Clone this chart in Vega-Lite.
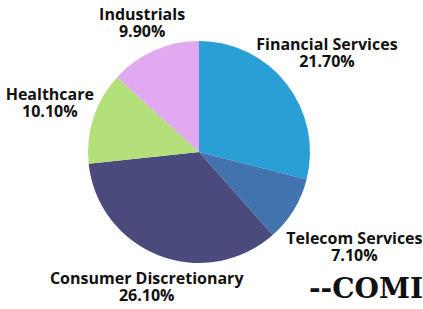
{
  "$schema": "https://vega.github.io/schema/vega-lite/v6.json",
  "width": 398,
  "height": 304,
  "autosize": "none",
  "padding": {"left": 0, "top": 0, "right": 25, "bottom": 5},
  "background": "white",
  "config": {"view": {"stroke": null}},
  "title": {
    "text": "--COMI",
    "orient": "bottom",
    "anchor": "end",
    "frame": "group",
    "font": "DejaVu Serif",
    "fontSize": 28,
    "fontWeight": "bold",
    "color": "#111111",
    "offset": -46,
    "dx": 25
  },
  "data": {
    "values": [
      {"sector": "Financial Services", "value": 21.7},
      {"sector": "Telecom Services", "value": 7.1},
      {"sector": "Consumer Discretionary", "value": 26.1},
      {"sector": "Healthcare", "value": 10.1},
      {"sector": "Industrials", "value": 9.9}
    ]
  },
  "transform": [
    {"window": [{"op": "row_number", "as": "rank"}]},
    {"calculate": "datum.sector + '\\n' + format(datum.value, '.2f') + '%'", "as": "label"}
  ],
  "encoding": {
    "theta": {"field": "value", "type": "quantitative", "stack": true},
    "order": {"field": "rank", "type": "quantitative"}
  },
  "layer": [
    {
      "mark": {"type": "arc", "radius": 111},
      "encoding": {
        "color": {
          "field": "sector",
          "type": "nominal",
          "legend": null,
          "scale": {
            "domain": ["Financial Services", "Telecom Services", "Consumer Discretionary", "Healthcare", "Industrials"],
            "range": ["#2a9fd5", "#4373ae", "#4b4a7d", "#b3e07b", "#e1a9ef"]
          }
        }
      }
    },
    {
      "mark": {"type": "text", "radius": 162, "dy": -8, "font": "Open Sans", "fontWeight": "bold", "fontSize": 16, "lineBreak": "\n", "lineHeight": 17, "color": "#111111", "align": "center", "baseline": "middle"},
      "encoding": {"text": {"condition": {"test": "datum.sector === 'Financial Services'", "field": "label"}, "value": ""}}
    },
    {
      "mark": {"type": "text", "radius": 182, "dy": -8, "font": "Open Sans", "fontWeight": "bold", "fontSize": 16, "lineBreak": "\n", "lineHeight": 17, "color": "#111111", "align": "center", "baseline": "middle"},
      "encoding": {"text": {"condition": {"test": "datum.sector === 'Telecom Services'", "field": "label"}, "value": ""}}
    },
    {
      "mark": {"type": "text", "radius": 145, "dy": -8, "font": "Open Sans", "fontWeight": "bold", "fontSize": 16, "lineBreak": "\n", "lineHeight": 17, "color": "#111111", "align": "center", "baseline": "middle"},
      "encoding": {"text": {"condition": {"test": "datum.sector === 'Consumer Discretionary'", "field": "label"}, "value": ""}}
    },
    {
      "mark": {"type": "text", "radius": 157, "dy": -8, "font": "Open Sans", "fontWeight": "bold", "fontSize": 16, "lineBreak": "\n", "lineHeight": 17, "color": "#111111", "align": "center", "baseline": "middle"},
      "encoding": {"text": {"condition": {"test": "datum.sector === 'Healthcare'", "field": "label"}, "value": ""}}
    },
    {
      "mark": {"type": "text", "radius": 141, "dy": -8, "font": "Open Sans", "fontWeight": "bold", "fontSize": 16, "lineBreak": "\n", "lineHeight": 17, "color": "#111111", "align": "center", "baseline": "middle"},
      "encoding": {"text": {"condition": {"test": "datum.sector === 'Industrials'", "field": "label"}, "value": ""}}
    }
  ]
}
